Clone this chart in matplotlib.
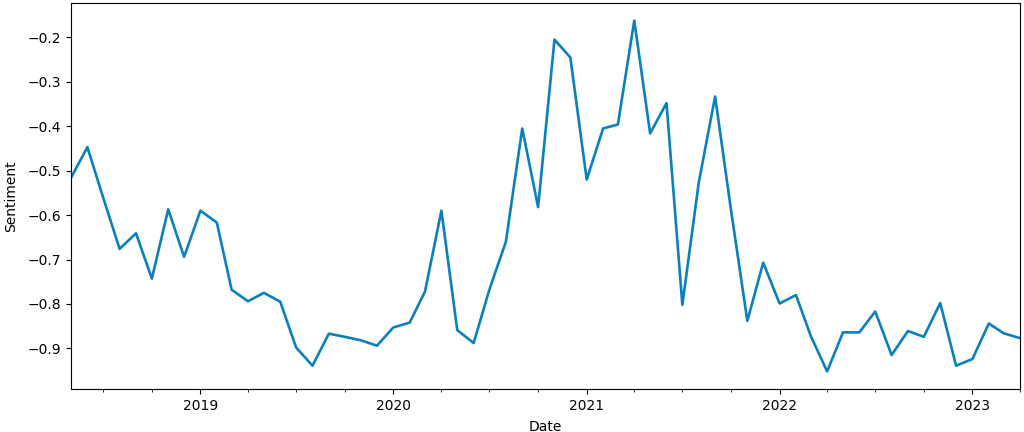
import matplotlib
matplotlib.use("Agg")
import matplotlib.pyplot as plt
import matplotlib.dates as mdates
import numpy as np
import pandas as pd

dates = pd.date_range("2018-05-01", periods=60, freq="MS")
sentiment = [
    -0.516, -0.447, -0.561, -0.676, -0.641, -0.743, -0.587, -0.694, -0.590, -0.617,
    -0.768, -0.794, -0.775, -0.795, -0.898, -0.939, -0.867, -0.874, -0.882, -0.894,
    -0.853, -0.842, -0.772, -0.590, -0.859, -0.888, -0.767, -0.660, -0.405, -0.582,
    -0.205, -0.245, -0.520, -0.405, -0.396, -0.162, -0.416, -0.348, -0.802, -0.527,
    -0.333, -0.588, -0.838, -0.707, -0.799, -0.780, -0.872, -0.952, -0.864, -0.864,
    -0.817, -0.915, -0.861, -0.874, -0.798, -0.939, -0.924, -0.844, -0.866, -0.877,
]

fig = plt.figure(figsize=(10.24, 4.32), dpi=100)
ax = fig.add_axes([71/1024, 1 - 389/432, (1020-71)/1024, (389-3)/432])
ax.plot(dates, sentiment, color="#0a80bd", linewidth=1.9)
ax.set_xlim(dates[0], dates[-1])
ax.margins(y=0.05)
ax.xaxis.set_major_locator(mdates.YearLocator())
ax.xaxis.set_major_formatter(mdates.DateFormatter("%Y"))
ax.xaxis.set_minor_locator(mdates.MonthLocator(bymonth=[1, 4, 7, 10]))
ax.set_yticks([-0.9, -0.8, -0.7, -0.6, -0.5, -0.4, -0.3, -0.2])
ax.set_xlabel("Date", labelpad=5)
ax.set_ylabel("Sentiment", labelpad=7)
fig.savefig("out.png", dpi=100)
